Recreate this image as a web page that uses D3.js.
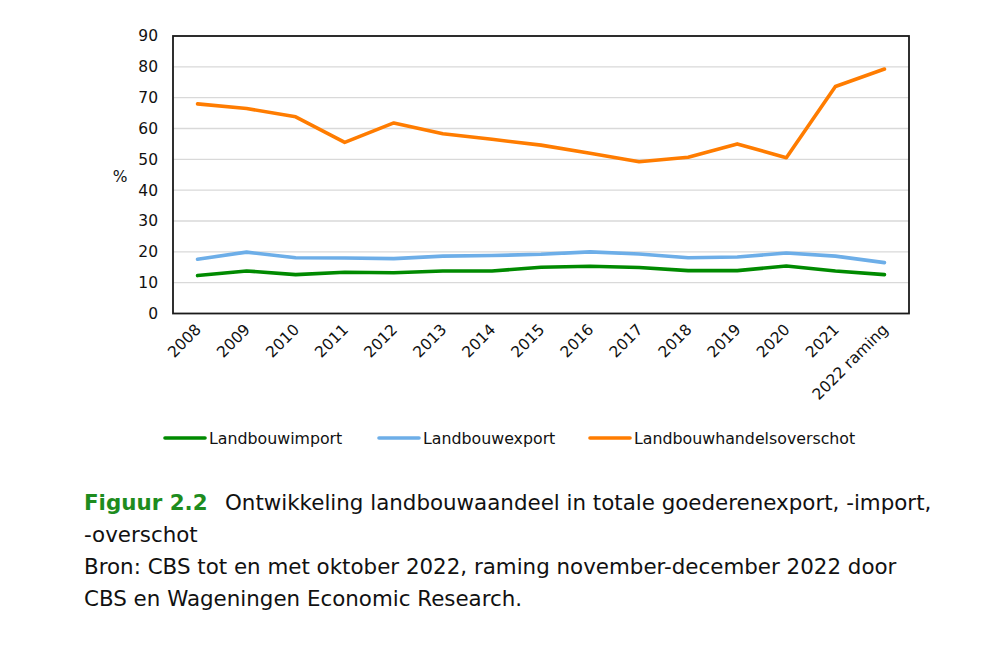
<!DOCTYPE html>
<html>
<head>
<meta charset="utf-8">
<script src="https://cdn.jsdelivr.net/npm/d3@7"></script>
<style>
  body { margin: 0; background: #fff; }
  text { font-family: "DejaVu Sans", Verdana, sans-serif; fill: #111; }
</style>
</head>
<body>
<div id="chart"></div>
<script>
// categories and series
const years = ["2008","2009","2010","2011","2012","2013","2014","2015","2016","2017","2018","2019","2020","2021","2022 raming"];
const landbouwimport = [12.3,13.8,12.6,13.4,13.2,13.8,13.8,15.0,15.3,14.9,13.9,13.9,15.4,13.8,12.6];
const landbouwexport = [17.6,19.9,18.1,18.0,17.8,18.6,18.8,19.2,20.0,19.3,18.1,18.3,19.6,18.6,16.5];
const landbouwhandelsoverschot = [68.0,66.5,63.8,55.5,61.8,58.3,56.5,54.6,52.0,49.2,50.7,55.0,50.5,73.6,79.3];
const yTicks = [0,10,20,30,40,50,60,70,80,90];

const seriesNames = ["Landbouwimport","Landbouwexport","Landbouwhandelsoverschot"];
const seriesValues = [landbouwimport, landbouwexport, landbouwhandelsoverschot];
const colors = ["#008a00","#6daee8","#ff7c00"];

const W = 988, H = 652;
const plot = {left: 173, right: 909, top: 36, bottom: 313.5};

let svg = d3.select("#chart").append("svg").attr("width", W).attr("height", H);

let x = d3.scalePoint().domain(years).range([plot.left, plot.right]).padding(0.5);
let y = d3.scaleLinear().domain([0, 90]).range([plot.bottom, plot.top]);

//grid lines
svg.append("g").selectAll("line").data(yTicks.slice(1)).enter()
  .append("line")
  .attr("x1", plot.left).attr("x2", plot.right)
  .attr("y1", d => y(d)).attr("y2", d => y(d))
  .attr("stroke", "#d9d9d9").attr("stroke-width", 1.3);

//y axis labels
let yAxis = d3.axisLeft(y).tickValues(yTicks).tickSize(0).tickPadding(15);
let gy = svg.append("g").attr("transform", `translate(${plot.left},0)`).call(yAxis);
gy.select(".domain").remove();
gy.selectAll("text").style("font-size", "15.5px").attr("fill", "#111");

svg.append("text").attr("x", 120).attr("y", 182).attr("text-anchor", "middle")
  .style("font-size", "15.5px").text("%");

//x axis labels, rotated
let xAxis = d3.axisBottom(x).tickSize(0).tickPadding(0);
let gx = svg.append("g").attr("transform", `translate(0,${plot.bottom})`).call(xAxis);
gx.select(".domain").remove();
gx.selectAll("text")
  .style("font-size", "15.5px").attr("fill", "#111")
  .attr("text-anchor", "end")
  .attr("dy", null).attr("y", 0)
  .attr("transform", "translate(4,17) rotate(-45)");

//lines
let line = d3.line().x((d, i) => x(years[i])).y(d => y(d));
svg.append("g").selectAll("path").data(seriesValues).enter()
  .append("path")
  .attr("d", d => line(d))
  .attr("fill", "none")
  .attr("stroke", (d, i) => colors[i])
  .attr("stroke-width", 3.6)
  .attr("stroke-linejoin", "round")
  .attr("stroke-linecap", "round");

//plot border
svg.append("rect")
  .attr("x", plot.left).attr("y", plot.top)
  .attr("width", plot.right - plot.left).attr("height", plot.bottom - plot.top)
  .attr("fill", "none").attr("stroke", "#1a1a1a").attr("stroke-width", 1.8);

//legend
const legendX = [165, 379, 590];
let lg = svg.append("g").selectAll("g").data(seriesNames).enter()
  .append("g").attr("transform", (d, i) => `translate(${legendX[i]},438)`);
lg.append("line").attr("x1", 0).attr("x2", 40).attr("y1", 0).attr("y2", 0)
  .attr("stroke", (d, i) => colors[i]).attr("stroke-width", 3.6).attr("stroke-linecap", "round");
lg.append("text").attr("x", 44).attr("y", 5.5).style("font-size", "15.8px").text(d => d);

//caption
let cap = svg.append("g").style("font-size", "21.4px");
let t1 = cap.append("text").attr("x", 84).attr("y", 510);
t1.append("tspan").style("font-weight", "bold").style("fill", "#1e8c1e").text("Figuur 2.2");
t1.append("tspan").attr("x", 225).text("Ontwikkeling landbouwaandeel in totale goederenexport, -import,");
cap.append("text").attr("x", 84).attr("y", 542).text("-overschot");
cap.append("text").attr("x", 84).attr("y", 574).text("Bron: CBS tot en met oktober 2022, raming november-december 2022 door");
cap.append("text").attr("x", 84).attr("y", 606).text("CBS en Wageningen Economic Research.");
</script>
</body>
</html>
